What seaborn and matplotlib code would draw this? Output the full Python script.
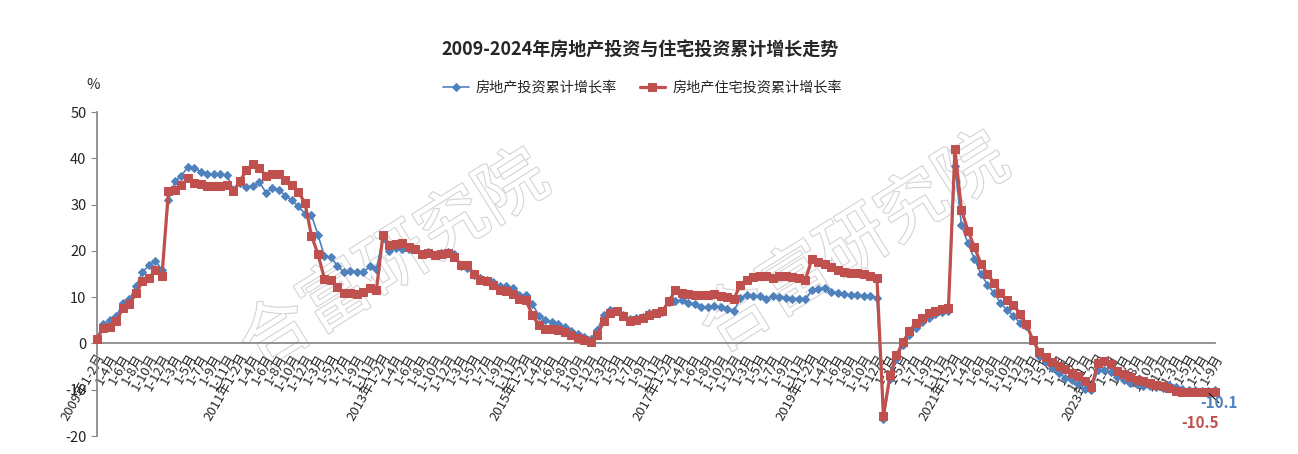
import numpy as np
import pandas as pd
import matplotlib
matplotlib.use("Agg")
import matplotlib.pyplot as plt
import matplotlib.patheffects as pe
import seaborn as sns

# 数据：每年 1-2月 至 1-12月 累计同比(%)，2024年至 1-9月
years = list(range(2009, 2025))
months_full = ['1-2', '1-3', '1-4', '1-5', '1-6', '1-7', '1-8', '1-9', '1-10', '1-11', '1-12']
months_2024 = months_full[:8]

# 房地产投资累计增长率
invest = [
    1.0, 4.3, 5.0, 5.9, 8.8, 9.5, 12.4, 15.4, 16.9, 17.9, 15.9,          # 2009
    31.0, 35.0, 36.2, 38.2, 37.9, 37.1, 36.6, 36.5, 36.5, 36.4, 33.2,    # 2010
    34.6, 33.9, 34.0, 34.8, 32.6, 33.5, 33.2, 31.9, 30.9, 29.6, 28.0,    # 2011
    27.7, 23.5, 18.8, 18.6, 16.7, 15.4, 15.6, 15.5, 15.4, 16.7, 16.1,    # 2012
    22.8, 19.9, 20.6, 20.4, 20.3, 20.5, 19.3, 19.7, 19.2, 19.5, 19.8,    # 2013
    19.3, 16.8, 16.4, 14.7, 14.1, 13.7, 13.2, 12.5, 12.4, 11.9, 10.5,    # 2014
    10.4, 8.5, 6.0, 5.1, 4.6, 4.3, 3.5, 2.6, 2.0, 1.3, 1.0,              # 2015
    3.0, 6.2, 7.2, 7.0, 6.1, 5.3, 5.4, 5.8, 6.6, 6.5, 6.9,               # 2016
    8.9, 9.1, 9.3, 8.8, 8.5, 7.9, 7.9, 8.1, 7.8, 7.5, 7.0,               # 2017
    9.9, 10.4, 10.3, 10.2, 9.7, 10.2, 10.1, 9.9, 9.7, 9.7, 9.5,          # 2018
    11.6, 11.8, 11.9, 11.2, 10.9, 10.6, 10.5, 10.5, 10.3, 10.2, 9.9,     # 2019
    -16.3, -7.7, -3.3, -0.3, 1.9, 3.4, 4.6, 5.6, 6.3, 6.8, 7.0,          # 2020
    38.3, 25.6, 21.6, 18.3, 15.0, 12.7, 10.9, 8.8, 7.2, 6.0, 4.4,        # 2021
    3.7, 0.7, -2.7, -4.0, -5.4, -6.4, -7.4, -8.0, -8.8, -9.8, -10.0,     # 2022
    -5.7, -5.8, -6.2, -7.2, -7.9, -8.5, -8.8, -9.1, -9.3, -9.4, -9.6,    # 2023
    -9.0, -9.5, -9.8, -10.1, -10.1, -10.2, -10.2, -10.1,                 # 2024
]

# 房地产住宅投资累计增长率
resid = [
    1.0, 3.4, 3.6, 4.8, 7.7, 8.5, 10.9, 13.4, 14.2, 15.8, 14.5,          # 2009
    33.0, 33.2, 34.2, 35.7, 34.6, 34.5, 34.0, 34.0, 34.0, 34.3, 33.0,    # 2010
    35.0, 37.5, 38.8, 38.0, 36.1, 36.5, 36.5, 35.3, 34.3, 32.8, 30.3,    # 2011
    23.3, 19.3, 14.0, 13.8, 12.2, 10.8, 10.8, 10.6, 11.1, 12.0, 11.6,    # 2012
    23.5, 21.2, 21.5, 21.7, 20.8, 20.3, 19.4, 19.5, 19.2, 19.3, 19.5,    # 2013
    18.7, 17.0, 16.9, 14.9, 13.8, 13.4, 12.6, 11.5, 11.3, 10.6, 9.5,     # 2014
    9.3, 6.1, 3.9, 3.2, 3.2, 3.0, 2.5, 1.8, 1.2, 0.8, 0.4,               # 2015
    1.9, 4.8, 6.5, 7.0, 5.9, 4.8, 5.1, 5.6, 6.2, 6.6, 7.0,               # 2016
    9.1, 11.5, 11.0, 10.6, 10.5, 10.4, 10.5, 10.7, 10.3, 10.0, 9.6,      # 2017
    12.7, 13.8, 14.4, 14.6, 14.5, 14.2, 14.6, 14.5, 14.3, 14.1, 13.8,    # 2018
    18.3, 17.5, 17.2, 16.5, 15.9, 15.4, 15.3, 15.2, 14.9, 14.6, 14.2,    # 2019
    -15.7, -6.9, -2.6, 0.3, 2.6, 4.5, 5.5, 6.5, 7.0, 7.5, 7.6,           # 2020
    42.0, 28.9, 24.4, 20.8, 17.2, 15.0, 13.1, 10.9, 9.3, 8.4, 6.4,       # 2021
    4.1, 0.7, -1.9, -3.0, -4.0, -4.9, -5.6, -6.4, -7.1, -8.2, -9.5,      # 2022
    -4.2, -3.9, -4.5, -6.0, -6.7, -7.2, -7.8, -8.1, -8.6, -8.9, -9.3,    # 2023
    -9.7, -10.3, -10.5, -10.5, -10.4, -10.4, -10.5, -10.5,               # 2024
]

labels = []
for y in years:
    ms = months_2024 if y == 2024 else months_full
    for m in ms:
        labels.append(f"{y}年{m}月" if m == '1-2' else f"{m}月")

df = pd.DataFrame({'idx': np.arange(len(labels)), 'label': labels,
                   'invest': invest, 'resid': resid})

sns.set_theme(style="white")
plt.rcParams['font.family'] = ['Noto Sans CJK SC', 'DejaVu Sans']
plt.rcParams['axes.unicode_minus'] = False

fig = plt.figure(figsize=(12.98, 4.54), dpi=100)
ax = fig.add_axes([0.0747, 0.0396, 0.8613, 0.7137])

blue = '#4F81BD'
red = '#C0504D'

# 水印（放在坐标轴内、折线之下）
for cx, cy in [(395, 262), (855, 245)]:
    ax.text(cx / 1298, 1 - cy / 454, '合富研究院', transform=fig.transFigure,
            fontsize=50, rotation=32, ha='center', va='center', color='white',
            zorder=0.5, clip_on=False,
            path_effects=[pe.withStroke(linewidth=1.6, foreground='#d4d4d4')])

sns.lineplot(data=df, x='idx', y='invest', ax=ax, color=blue, lw=1.2,
             marker='D', markersize=4.2, markeredgecolor=blue,
             label='房地产投资累计增长率', zorder=2, clip_on=False)
sns.lineplot(data=df, x='idx', y='resid', ax=ax, color=red, lw=2.3,
             marker='s', markersize=6.3, markeredgecolor=red,
             label='房地产住宅投资累计增长率', zorder=3, clip_on=False)

ax.set_xlim(0, len(labels) - 1)
ax.set_ylim(-20, 50)
ax.set_yticks(range(-20, 51, 10))
ax.set_xlabel('')
ax.set_ylabel('')

for s in ['top', 'right']:
    ax.spines[s].set_visible(False)
ax.spines['left'].set_color('#868686')
ax.spines['bottom'].set_color('#868686')
ax.spines['bottom'].set_position(('data', 0))

ax.set_xticks(df['idx'])
ax.set_xticklabels([l if i % 2 == 0 else '' for i, l in enumerate(labels)],
                   rotation=60, ha='right', va='top', rotation_mode='anchor',
                   fontsize=9.5)
ax.tick_params(axis='x', direction='out', length=4, width=0.8, color='#868686', pad=2)
ax.tick_params(axis='y', direction='out', length=4, width=0.8, color='#868686',
               labelsize=10.5, left=True)
for t in ax.get_yticklabels():
    t.set_color('#262626')

ax.legend(loc='center', bbox_to_anchor=(0.495, 0.806), bbox_transform=fig.transFigure,
          ncol=2, frameon=False, fontsize=10.2, handlelength=1.8, columnspacing=1.6,
          handletextpad=0.5)

fig.text(0.493, 0.89, '2009-2024年房地产投资与住宅投资累计增长走势',
         ha='center', va='center', fontsize=13, fontweight='bold')
fig.text(0.0717, 0.813, '%', ha='center', va='center', fontsize=10.5)

last = len(labels) - 1
ax.annotate(f"{invest[-1]:.1f}", xy=(last - 0.9, -10.8), xytext=(last + 0.6, -12.8),
            ha='center', va='center', color=blue, fontsize=11, fontweight='bold',
            arrowprops=dict(arrowstyle='-', color='black', lw=0.8, shrinkA=0, shrinkB=0),
            annotation_clip=False, zorder=5)
ax.text(last - 2.3, -17.1, f"{resid[-1]:.1f}", ha='center', va='center',
        color=red, fontsize=11, fontweight='bold', zorder=5)

fig.savefig('out.png', dpi=100)
